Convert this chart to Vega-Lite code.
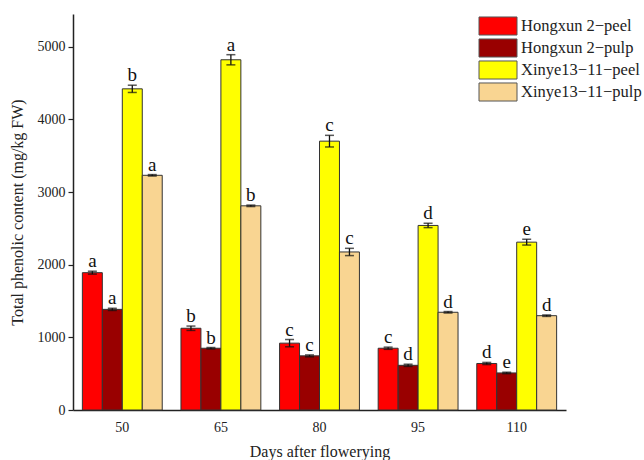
{
  "$schema": "https://vega.github.io/schema/vega-lite/v6.json",
  "width": 493,
  "height": 396,
  "autosize": {"type": "none"},
  "padding": {"left": 73, "top": 14, "right": 78, "bottom": 50},
  "background": "white",
  "config": {
    "font": "Liberation Serif",
    "view": {"stroke": null},
    "axis": {"labelFont": "Liberation Serif", "titleFont": "Liberation Serif", "labelColor": "#222", "titleColor": "#222", "titleFontWeight": "normal", "domainColor": "#222", "tickColor": "#222", "grid": false}
  },
  "data": {
    "values": [
      {"day": "50", "series": "Hongxun 2\u2212peel", "value": 1890, "lo": 1870, "hi": 1910, "sig": "a"},
      {"day": "50", "series": "Hongxun 2\u2212pulp", "value": 1385, "lo": 1370, "hi": 1400, "sig": "a"},
      {"day": "50", "series": "Xinye13\u221211\u2212peel", "value": 4420, "lo": 4370, "hi": 4470, "sig": "b"},
      {"day": "50", "series": "Xinye13\u221211\u2212pulp", "value": 3230, "lo": 3220, "hi": 3240, "sig": "a"},
      {"day": "65", "series": "Hongxun 2\u2212peel", "value": 1125, "lo": 1095, "hi": 1155, "sig": "b"},
      {"day": "65", "series": "Hongxun 2\u2212pulp", "value": 850, "lo": 840, "hi": 860, "sig": "b"},
      {"day": "65", "series": "Xinye13\u221211\u2212peel", "value": 4820, "lo": 4750, "hi": 4890, "sig": "a"},
      {"day": "65", "series": "Xinye13\u221211\u2212pulp", "value": 2810, "lo": 2800, "hi": 2820, "sig": "b"},
      {"day": "80", "series": "Hongxun 2\u2212peel", "value": 920, "lo": 870, "hi": 970, "sig": "c"},
      {"day": "80", "series": "Hongxun 2\u2212pulp", "value": 745, "lo": 732, "hi": 758, "sig": "c"},
      {"day": "80", "series": "Xinye13\u221211\u2212peel", "value": 3700, "lo": 3620, "hi": 3780, "sig": "c"},
      {"day": "80", "series": "Xinye13\u221211\u2212pulp", "value": 2175, "lo": 2125, "hi": 2225, "sig": "c"},
      {"day": "95", "series": "Hongxun 2\u2212peel", "value": 850, "lo": 835, "hi": 865, "sig": "c"},
      {"day": "95", "series": "Hongxun 2\u2212pulp", "value": 615, "lo": 600, "hi": 630, "sig": "d"},
      {"day": "95", "series": "Xinye13\u221211\u2212peel", "value": 2540, "lo": 2510, "hi": 2570, "sig": "d"},
      {"day": "95", "series": "Xinye13\u221211\u2212pulp", "value": 1345, "lo": 1335, "hi": 1355, "sig": "d"},
      {"day": "110", "series": "Hongxun 2\u2212peel", "value": 640, "lo": 625, "hi": 655, "sig": "d"},
      {"day": "110", "series": "Hongxun 2\u2212pulp", "value": 510, "lo": 500, "hi": 520, "sig": "e"},
      {"day": "110", "series": "Xinye13\u221211\u2212peel", "value": 2310, "lo": 2270, "hi": 2350, "sig": "e"},
      {"day": "110", "series": "Xinye13\u221211\u2212pulp", "value": 1298, "lo": 1288, "hi": 1308, "sig": "d"}
    ]
  },
  "encoding": {
    "x": {
      "field": "day", "type": "nominal", "sort": ["50", "65", "80", "95", "110"],
      "scale": {"paddingInner": 0.19, "paddingOuter": 0.095},
      "axis": {"title": "Days after flowerying", "labelAngle": 0, "ticks": false, "labelFontSize": 14, "labelPadding": 10, "titleFontSize": 16, "titlePadding": 9, "domainWidth": 1.5}
    },
    "xOffset": {
      "field": "series", "type": "nominal",
      "sort": ["Hongxun 2\u2212peel", "Hongxun 2\u2212pulp", "Xinye13\u221211\u2212peel", "Xinye13\u221211\u2212pulp"],
      "scale": {"paddingInner": 0, "paddingOuter": 0}
    }
  },
  "layer": [
    {
      "mark": {"type": "bar", "stroke": "#333", "strokeWidth": 1},
      "encoding": {
        "y": {
          "field": "value", "type": "quantitative",
          "scale": {"domain": [0, 5450], "nice": false},
          "axis": {
            "title": "Total phenolic content (mg/kg FW)",
            "values": [0, 500, 1000, 1500, 2000, 2500, 3000, 3500, 4000, 4500, 5000],
            "labelExpr": "datum.value % 1000 === 0 ? datum.label : ''",
            "format": "d", "labelFontSize": 14, "titleFontSize": 16, "tickSize": 5, "labelPadding": 3, "titlePadding": 12, "domainWidth": 1.5, "tickWidth": 1.2
          }
        },
        "color": {
          "field": "series", "type": "nominal",
          "sort": ["Hongxun 2\u2212peel", "Hongxun 2\u2212pulp", "Xinye13\u221211\u2212peel", "Xinye13\u221211\u2212pulp"],
          "scale": {"range": ["#FF0000", "#990000", "#FFFF00", "#F9D592"]},
          "legend": {
            "title": null, "orient": "none", "legendX": 415, "legendY": 2,
            "symbolType": "M-2,-0.95L2,-0.95L2,0.95L-2,0.95Z", "symbolSize": 361,
            "symbolStrokeColor": "#555", "symbolStrokeWidth": 1, "symbolOpacity": 1,
            "labelFont": "Liberation Serif", "labelFontSize": 16.5, "labelColor": "#222",
            "rowPadding": -3, "labelOffset": 13, "labelLimit": 200
          }
        }
      }
    },
    {
      "mark": {"type": "rule", "color": "#111", "strokeWidth": 1.3},
      "encoding": {"y": {"field": "lo", "type": "quantitative"}, "y2": {"field": "hi"}}
    },
    {
      "mark": {"type": "tick", "color": "#111", "size": 9, "thickness": 1.5},
      "encoding": {"y": {"field": "lo", "type": "quantitative"}}
    },
    {
      "mark": {"type": "tick", "color": "#111", "size": 9, "thickness": 1.5},
      "encoding": {"y": {"field": "hi", "type": "quantitative"}}
    },
    {
      "mark": {"type": "text", "font": "Liberation Serif", "fontSize": 19, "baseline": "alphabetic", "dy": -4, "color": "#111"},
      "encoding": {"y": {"field": "hi", "type": "quantitative"}, "text": {"field": "sig"}}
    }
  ]
}
